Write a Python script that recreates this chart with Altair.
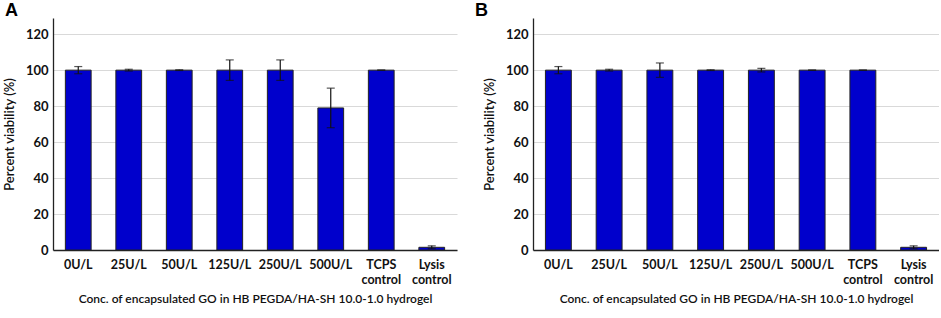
import altair as alt
import pandas as pd

categories = ["0U/L", "25U/L", "50U/L", "125U/L", "250U/L", "500U/L", "TCPS control", "Lysis control"]
values_a = [100, 100, 100, 100, 100, 79, 100, 1.5]
errors_a = [2.0, 0.5, 0.2, 5.7, 5.7, 11.0, 0.0, 0.8]
values_b = [100, 100, 100, 100, 100, 100, 100, 1.5]
errors_b = [2.0, 0.5, 4.0, 0.2, 1.0, 0.0, 0.0, 0.8]
y_ticks = [0, 20, 40, 60, 80, 100, 120]

FONT = "Lato"
X_TITLE = "Conc. of encapsulated GO in HB PEGDA/HA-SH 10.0-1.0 hydrogel"
Y_TITLE = "Percent viability (%)"


def panel(letter, values, errors, width, letter_dx):
    df = pd.DataFrame({"cat": categories, "val": values, "err": errors})
    df["lo"] = df["val"] - df["err"]
    df["hi"] = df["val"] + df["err"]
    x_axis = alt.Axis(
        title=X_TITLE,
        labelAngle=0,
        labelExpr="split(datum.label, ' ')",
        labelFont=FONT,
        labelFontSize=12.5,
        labelFontWeight="bold",
        labelColor="#111",
        labelPadding=8,
        labelLineHeight=15,
        labelOverlap=False,
        ticks=False,
        domainColor="#222",
        domainWidth=1.3,
        titleFont=FONT,
        titleFontSize=12,
        titleFontWeight=600,
        titleColor="#111",
        titlePadding=8,
    )
    y_axis = alt.Axis(
        title=Y_TITLE,
        values=y_ticks,
        grid=True,
        gridColor="#d9d9d9",
        gridWidth=1,
        ticks=False,
        labelOverlap=False,
        labelFont=FONT,
        labelFontSize=13,
        labelFontWeight="bold",
        labelColor="#111",
        labelPadding=5,
        domainColor="#222",
        domainWidth=1.3,
        titleFont=FONT,
        titleFontSize=13,
        titleFontWeight=600,
        titleColor="#111",
        titlePadding=9,
    )
    x_scale = alt.Scale(paddingInner=0.49, paddingOuter=0.245)
    y_scale = alt.Scale(domain=[0, 129], nice=False)
    x = alt.X("cat:N", sort=categories, scale=x_scale, axis=x_axis)

    bars = alt.Chart(df).mark_bar(color="#0000CC", stroke="#222", strokeWidth=1).encode(
        x=x,
        y=alt.Y("val:Q", scale=y_scale, axis=y_axis),
    )
    rules = alt.Chart(df).mark_rule(color="#111", strokeWidth=1.2).encode(
        x=x,
        y=alt.Y("lo:Q", scale=y_scale, axis=y_axis),
        y2="hi:Q",
    )
    caps_hi = alt.Chart(df).mark_tick(color="#111", thickness=1.2, size=8, orient="horizontal").encode(
        x=x,
        y=alt.Y("hi:Q", scale=y_scale, axis=y_axis),
    )
    caps_lo = alt.Chart(df).mark_tick(color="#111", thickness=1.2, size=8, orient="horizontal").encode(
        x=x,
        y=alt.Y("lo:Q", scale=y_scale, axis=y_axis),
    )
    return alt.layer(bars, rules, caps_hi, caps_lo).properties(
        width=width,
        height=232,
        title=alt.TitleParams(
            letter,
            anchor="start",
            frame="group",
            dx=letter_dx,
            font="Liberation Sans",
            fontSize=18,
            fontWeight="bold",
            color="#000",
            offset=-2,
        ),
    )


chart = (
    alt.hconcat(
        panel("A", values_a, errors_a, 404, -48),
        panel("B", values_b, errors_b, 406, -58),
        spacing=18,
    )
    .properties(padding={"left": 3, "top": 2, "right": 0, "bottom": 0}, background="white")
    .configure_view(stroke=None)
)

chart.save("out.html", embed_options={"renderer": "svg", "actions": False})
